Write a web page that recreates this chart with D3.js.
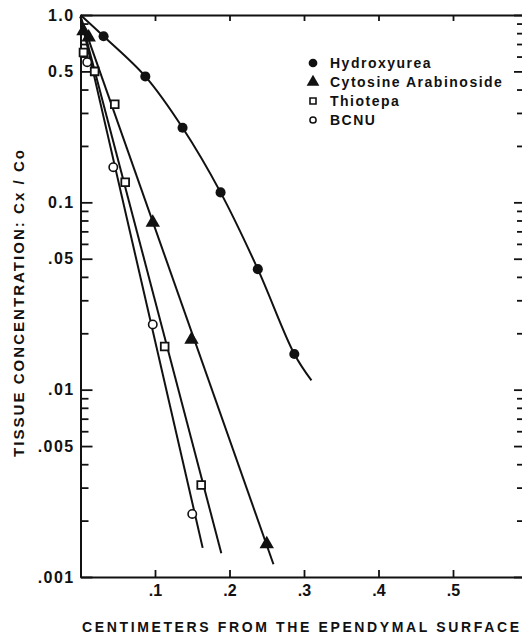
<!DOCTYPE html>
<html>
<head>
<meta charset="utf-8">
<script src="https://cdn.jsdelivr.net/npm/d3@7"></script>
<style>
  body { margin: 0; background: #fff; }
  svg { display: block; }
  text { font-family: "Liberation Sans", Arial, sans-serif; fill: #111; }
</style>
</head>
<body>
<div id="chart"></div>
<script>
var hydroX = [0.031, 0.087, 0.137, 0.188, 0.238, 0.287];
var hydroY = [0.77, 0.47, 0.25, 0.113, 0.044, 0.0155];
var cytoX = [0.004, 0.011, 0.097, 0.149, 0.250];
var cytoY = [0.82, 0.76, 0.078, 0.0185, 0.0015];
var thioX = [0.004, 0.019, 0.046, 0.060, 0.113, 0.162];
var thioY = [0.63, 0.50, 0.334, 0.128, 0.017, 0.0031];
var bcnuX = [0.009, 0.044, 0.097, 0.150];
var bcnuY = [0.56, 0.154, 0.0223, 0.00217];

// fitted lines as drawn in the figure
var hydroFitX = [0, 0.031, 0.087, 0.137, 0.188, 0.238, 0.287, 0.310];
var hydroFitY = [1.0, 0.77, 0.47, 0.25, 0.113, 0.044, 0.0155, 0.0112];
var cytoFitX = [0, 0.259];
var cytoFitY = [0.98, 0.00117];
var thioFitX = [0, 0.189];
var thioFitY = [0.98, 0.00134];
var bcnuFitX = [0, 0.164];
var bcnuFitY = [0.98, 0.00143];

var legendNames = ["Hydroxyurea", "Cytosine Arabinoside", "Thiotepa", "BCNU"];

var xTicks = [0.1, 0.2, 0.3, 0.4, 0.5];
var xTickLabels = [".1", ".2", ".3", ".4", ".5"];
var yTicks = [1, 0.5, 0.1, 0.05, 0.01, 0.005, 0.001];
var yTickLabels = ["1.0", "0.5", "0.1", ".05", ".01", ".005", ".001"];
var yMinor = [0.9, 0.8, 0.7, 0.6, 0.4, 0.3, 0.2,
              0.09, 0.08, 0.07, 0.06, 0.04, 0.03, 0.02,
              0.009, 0.008, 0.007, 0.006, 0.004, 0.003, 0.002];

var larg = 522, haut = 636;
var svg = d3.select("#chart").append("svg")
    .attr("width", larg).attr("height", haut);

var x = d3.scaleLinear().domain([0, 0.6]).range([80.5, 527.5]);
var y = d3.scaleLog().domain([0.001, 1]).range([577, 15]);

function styleAxis(g) {
  g.selectAll("path.domain").attr("stroke", "#111").attr("stroke-width", 2);
  g.selectAll(".tick line").attr("stroke", "#111").attr("stroke-width", 1.8);
}

// left axis, ticks pointing in
svg.append("g").attr("transform", "translate(" + x(0) + ",0)")
  .call(d3.axisLeft(y).tickValues(yMinor).tickSizeInner(-8).tickSizeOuter(0).tickFormat(""))
  .call(styleAxis);
svg.append("g").attr("transform", "translate(" + x(0) + ",0)")
  .call(d3.axisLeft(y).tickValues(yTicks).tickSizeInner(-12).tickSizeOuter(0).tickPadding(6)
        .tickFormat(function(d, i) { return yTickLabels[i]; }))
  .call(styleAxis)
  .call(function(g) {
    g.selectAll("text").attr("font-size", 16).attr("font-weight", "bold")
      .attr("letter-spacing", 1.4).attr("fill", "#111").attr("font-family", "Liberation Sans, Arial");
  });

// right axis (cut off by the frame)
svg.append("g").attr("transform", "translate(525,0)")
  .call(d3.axisRight(y).tickValues(yMinor).tickSizeInner(-8).tickSizeOuter(0).tickFormat(""))
  .call(styleAxis);
svg.append("g").attr("transform", "translate(525,0)")
  .call(d3.axisRight(y).tickValues(yTicks).tickSizeInner(-11).tickSizeOuter(0).tickFormat(""))
  .call(styleAxis);

// bottom and top axes
svg.append("g").attr("transform", "translate(0," + y(0.001) + ")")
  .call(d3.axisBottom(x).tickValues(xTicks).tickSizeInner(-7).tickSizeOuter(0).tickPadding(8)
        .tickFormat(function(d, i) { return xTickLabels[i]; }))
  .call(styleAxis)
  .call(function(g) {
    g.selectAll("text").attr("font-size", 16).attr("font-weight", "bold")
      .attr("fill", "#111").attr("font-family", "Liberation Sans, Arial");
  });
svg.append("g").attr("transform", "translate(0," + y(1) + ")")
  .call(d3.axisTop(x).tickValues(xTicks).tickSizeInner(-6).tickSizeOuter(0).tickFormat(""))
  .call(styleAxis);

// axis titles
svg.append("text")
  .attr("transform", "translate(24,303.5) rotate(-90)")
  .attr("text-anchor", "middle")
  .attr("font-size", 15).attr("font-weight", "bold")
  .attr("textLength", 307).attr("lengthAdjust", "spacing")
  .text("TISSUE  CONCENTRATION:  Cx / Co");

svg.append("text")
  .attr("x", 82).attr("y", 632)
  .attr("font-size", 14).attr("font-weight", "bold")
  .attr("textLength", 437).attr("lengthAdjust", "spacing")
  .text("CENTIMETERS  FROM  THE  EPENDYMAL  SURFACE");

// lines
function pairs(xs, ys) { return xs.map(function(v, i) { return [v, ys[i]]; }); }
var line = d3.line().x(function(d) { return x(d[0]); }).y(function(d) { return y(d[1]); });
var curve = d3.line().curve(d3.curveCatmullRom.alpha(0.5))
  .x(function(d) { return x(d[0]); }).y(function(d) { return y(d[1]); });

var lines = svg.append("g").attr("fill", "none").attr("stroke", "#111").attr("stroke-width", 2);
lines.append("path").attr("d", curve(pairs(hydroFitX, hydroFitY)));
lines.append("path").attr("d", line(pairs(cytoFitX, cytoFitY)));
lines.append("path").attr("d", line(pairs(thioFitX, thioFitY)));
lines.append("path").attr("d", line(pairs(bcnuFitX, bcnuFitY)));

// markers
var sym = {
  hydro: { type: d3.symbolCircle, size: 80, fill: "#111", sw: 0 },
  cyto:  { type: d3.symbolTriangle, size: 90, fill: "#111", sw: 0 },
  thio:  { type: d3.symbolSquare, size: 60, fill: "#fff", sw: 1.8 },
  bcnu:  { type: d3.symbolCircle, size: 55, fill: "#fff", sw: 1.6 }
};
function drawMarkers(xs, ys, s) {
  svg.append("g").selectAll("path").data(pairs(xs, ys)).enter().append("path")
    .attr("transform", function(d) { return "translate(" + x(d[0]) + "," + y(d[1]) + ")"; })
    .attr("d", d3.symbol().type(s.type).size(s.size))
    .attr("fill", s.fill).attr("stroke", "#111").attr("stroke-width", s.sw);
}
drawMarkers(thioX, thioY, sym.thio);
drawMarkers(bcnuX, bcnuY, sym.bcnu);
drawMarkers(cytoX, cytoY, sym.cyto);
drawMarkers(hydroX, hydroY, sym.hydro);

// legend
var legSym = [
  { type: d3.symbolCircle, size: 60, fill: "#111", sw: 0 },
  { type: d3.symbolTriangle, size: 70, fill: "#111", sw: 0 },
  { type: d3.symbolSquare, size: 36, fill: "#fff", sw: 1.6 },
  { type: d3.symbolCircle, size: 30, fill: "#fff", sw: 1.5 }
];
var legY = d3.scalePoint().domain(legendNames).range([63, 120]);
var leg = svg.append("g");
leg.selectAll("path").data(legendNames).enter().append("path")
  .attr("transform", function(d) { return "translate(313," + legY(d) + ")"; })
  .attr("d", function(d, i) { return d3.symbol().type(legSym[i].type).size(legSym[i].size)(); })
  .attr("fill", function(d, i) { return legSym[i].fill; })
  .attr("stroke", "#111")
  .attr("stroke-width", function(d, i) { return legSym[i].sw; });
leg.selectAll("text").data(legendNames).enter().append("text")
  .attr("x", 330).attr("y", function(d) { return legY(d); })
  .attr("dy", "0.36em")
  .attr("font-size", 14).attr("font-weight", "bold")
  .attr("letter-spacing", 1.5)
  .text(function(d) { return d; });
</script>
</body>
</html>
